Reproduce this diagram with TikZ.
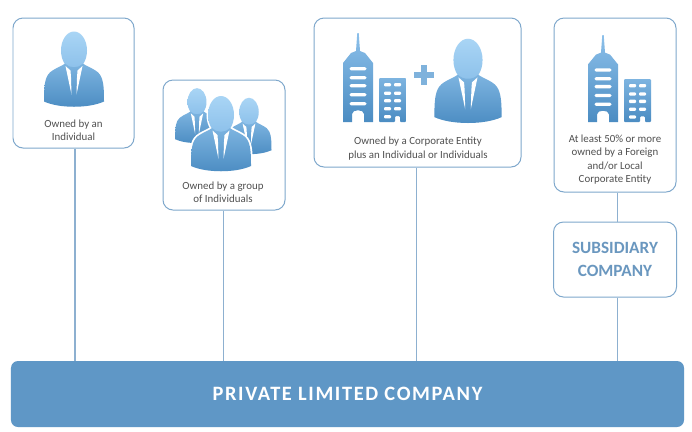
\documentclass[tikz,border=0pt]{standalone}
\usepackage{fontspec}
\setmainfont{Carlito}
\usetikzlibrary{calc}
\definecolor{edgeblue}{HTML}{7FA8CC}
\definecolor{linkblue}{HTML}{8DB0D0}
\definecolor{barblue}{HTML}{5F97C6}
\definecolor{plusblue}{HTML}{7FB2DC}
\definecolor{headtxt}{HTML}{6A97BF}
\definecolor{bodytxt}{HTML}{505050}
\definecolor{lightA}{HTML}{A9D5F5}
\definecolor{lightB}{HTML}{8CC0EA}
\definecolor{midA}{HTML}{7DB4E0}
\definecolor{darkA}{HTML}{4B8CC2}
\tikzset{
  box/.style={draw=edgeblue,line width=1pt,rounded corners=10bp,fill=white,inner sep=0pt},
  captext/.style={font=\fontsize{10.9bp}{13.2bp}\selectfont,text=bodytxt,align=center,inner sep=0pt},
  link/.style={draw=linkblue,line width=1.2pt},
  pics/person/.style={code={
    \shade[top color=lightA,bottom color=lightB] (0,0) ellipse (13 and 19);
    \shade[top color=midA,bottom color=darkA]
      (-9,13) .. controls (-14,17) and (-24,19) .. (-27,26)
      .. controls (-30,32) and (-30,42) .. (-30,51)
      .. controls (-15,58) and (15,58) .. (30,51)
      .. controls (30,42) and (30,32) .. (27,26)
      .. controls (24,19) and (14,17) .. (9,13)
      .. controls (5,18) and (-5,18) .. (-9,13) -- cycle;
    \fill[white] (-8.5,15.5) -- (-3.5,20) -- (-3,27) -- (-2.5,44) -- cycle;
    \fill[white] (8.5,15.5) -- (3.5,20) -- (3,27) -- (2.5,44) -- cycle;
  }},
  pics/outlinebody/.style={code={
    \draw[white,line width=3.5bp,fill=white]
      (-9,13) .. controls (-14,17) and (-24,19) .. (-27,26)
      .. controls (-30,32) and (-30,42) .. (-30,51)
      .. controls (-15,58) and (15,58) .. (30,51)
      .. controls (30,42) and (30,32) .. (27,26)
      .. controls (24,19) and (14,17) .. (9,13) -- cycle;
    \draw[white,line width=3bp,fill=white] (0,0) ellipse (13 and 19);
  }},
  pics/building/.style={code={
    \shade[top color=lightB,bottom color=darkA]
      (-0.7,0) -- (0.7,0) -- (2,18) -- (7,20) -- (15,30) -- (15,89) -- (6,89)
      -- (6,81) .. controls (6,76) and (-6,76) .. (-6,81) -- (-6,89) -- (-15,89) -- (-15,30) -- (-7,20) -- (-2,18) -- cycle;
    \foreach \yy in {34,43,51,60,69}
      \fill[white,rounded corners=1.5bp] (-8.5,\yy) rectangle (8.5,\yy+3.4);
    \shade[top color=midA,bottom color=darkA,rounded corners=1bp]
      (21,45) -- (48,45) -- (48,89) -- (42,89) -- (42,83) -- (37,83) -- (37,89) -- (21,89) -- cycle;
    \foreach \yy in {50,58.5,66,74,82}{
      \fill[white,rounded corners=1bp] (26,\yy) rectangle (33,\yy+3.4);
      \ifdim\yy pt<80pt \fill[white,rounded corners=1bp] (36,\yy) rectangle (43,\yy+3.4);\fi
    }
  }},
}
\begin{document}
\begin{tikzpicture}[x=1bp,y=-1bp]
\useasboundingbox[fill=white] (0,0) rectangle (692,431);
% boxes
\node[box,minimum width=121bp,minimum height=130bp] (b1) at (73.5,83) {};
\node[box,minimum width=122bp,minimum height=130bp] (b2) at (224,145) {};
\node[box,minimum width=207bp,minimum height=149bp] (b3) at (417.5,92.5) {};
\node[box,minimum width=122bp,minimum height=174bp] (b4) at (615,105) {};
\node[box,minimum width=123bp,minimum height=75bp,align=center,
  font=\bfseries\fontsize{17.2bp}{22.5bp}\selectfont,text=headtxt] (b5) at (615,259.5) {SUBSIDIARY\\COMPANY};
\node[draw=none,fill=barblue,rounded corners=7bp,minimum width=673bp,minimum height=66bp,inner sep=0pt,
  text=white,font=\bfseries\fontsize{20.4bp}{24bp}\selectfont] (bar) at (347.5,394)
  {\addfontfeatures{LetterSpace=8}PRIVATE LIMITED COMPANY};
% connectors
\draw[link] ([xshift=1.5bp]b1.south) -- ([xshift=1.5bp]b1.south |- bar.north);
\draw[link] ([xshift=-.7bp]b2.south) -- ([xshift=-.7bp]b2.south |- bar.north);
\draw[link] ([xshift=-.9bp]b3.south) -- ([xshift=-.9bp]b3.south |- bar.north);
\draw[link] ([xshift=2.6bp]b4.south) -- ([xshift=2.6bp]b4.south |- b5.north);
\draw[link] ([xshift=2.6bp]b5.south) -- ([xshift=2.6bp]b5.south |- bar.north);
% figures
\pic at (74,50.5) {person};
\pic[scale=.73] at (197,102) {person};
\pic[scale=.75] at (249,112) {person};
\pic at (221,115) {outlinebody};
\pic at (221,115) {person};
\pic at (358,33) {building};
\fill[plusblue] (420.5,65) rectangle (426.5,85);
\fill[plusblue] (413.5,72) rectangle (433.5,78);
\pic[scale=1.12] at (468,60) {person};
\pic[yscale=.98] at (603,35) {building};
% captions
\node[captext] (t1) at (73.5,130) {Owned by an\\Individual};
\node[captext] (t2) at (223,192) {Owned by a group\\of Individuals};
\node[captext] (t3) at (418,148.5) {Owned by a Corporate Entity\\plus an Individual or Individuals};
\node[captext] (t4) at (615,159.5) {At least 50\% or more\\owned by a Foreign\\and/or Local\\Corporate Entity};
\end{tikzpicture}
\end{document}
